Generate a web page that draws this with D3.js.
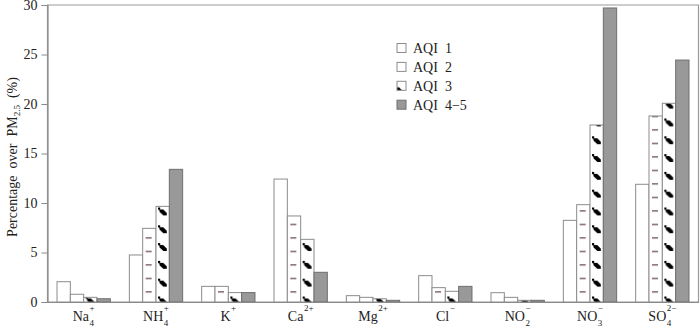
<!DOCTYPE html>
<html><head><meta charset="utf-8">
<script src="https://cdn.jsdelivr.net/npm/d3@7"></script>
<style>
html,body{margin:0;padding:0;background:#fff;}
svg{display:block;}
svg text{font-family:"Liberation Serif","Times New Roman",Times,serif !important;}
</style></head>
<body>
<svg id="chart" width="700" height="327"></svg>
<script>
// ---- data ----
const categories = ["Na4+","NH4+","K+","Ca2+","Mg2+","Cl-","NO2-","NO3-","SO42-"];
const labelBase = ["Na","NH","K","Ca","Mg","Cl","NO","NO","SO"];
const labelSub  = ["4","4","","","","","2","3","4"];
const labelSup  = ["+","+","+","2+","2+","\u2212","\u2212","\u2212","2\u2212"];
const seriesNames = ["AQI  1","AQI  2","AQI  3","AQI  4\u22125"];
const aqi1 = [2.05, 4.75, 1.58, 12.42, 0.64, 2.66, 0.94, 8.25, 11.89];
const aqi2 = [0.78, 7.44, 1.58, 8.69, 0.47, 1.45, 0.47, 9.83, 18.79];
const aqi3 = [0.47, 9.66, 0.95, 6.33, 0.33, 1.08, 0.17, 17.88, 20.07];
const aqi4 = [0.33, 13.40, 0.95, 3.00, 0.17, 1.58, 0.17, 29.70, 24.44];
const yTicks = [0, 5, 10, 15, 20, 25, 30];

const series = [aqi1, aqi2, aqi3, aqi4];
const FONT = "'Liberation Serif','Times New Roman',Times,serif";

// ---- layout ----
const svg = d3.select("#chart");
const L = 47.5, R = 698.5, T = 5, B = 302;
const x = d3.scaleBand().domain(categories).range([L, R]).paddingInner(0.263).paddingOuter(0.1315);
const xs = d3.scaleBand().domain(d3.range(4)).range([0, x.bandwidth()]);
const y = d3.scaleLinear().domain([0, 30]).range([B, T]);
const bw = xs.bandwidth();

const defs = svg.append("defs");

// frame
svg.append("path")
  .attr("d", `M${L},${B}H${R}V${T}H${L}Z`)
  .attr("fill", "none").attr("stroke", "#9a9a9a").attr("stroke-width", 1.2);

function dashPattern(id, x0) {
  const p = defs.append("pattern").attr("id", id).attr("patternUnits", "userSpaceOnUse")
    .attr("x", x0).attr("y", 291.2).attr("width", 200).attr("height", 13.5);
  p.append("rect").attr("width", 200).attr("height", 13.5).attr("fill", "#fff");
  p.append("rect").attr("x", 3).attr("y", 0).attr("width", 6).attr("height", 1.4).attr("fill", "#7a5c5c");
}
function blobPattern(id, x0) {
  const p = defs.append("pattern").attr("id", id).attr("patternUnits", "userSpaceOnUse")
    .attr("x", x0).attr("y", 296.5).attr("width", 200).attr("height", 17.8);
  p.append("rect").attr("width", 200).attr("height", 17.8).attr("fill", "#fff");
  p.append("rect").attr("x", 2).attr("y", 0).attr("width", 2.2).attr("height", 2.2).attr("fill", "#000");
  p.append("path").attr("d", "M3.2,2 L7.2,2 L10.8,5.4 L10.8,7.8 L7.4,7.8 L3.6,4.4 Z").attr("fill", "#000");
}

const gBars = svg.append("g");
categories.forEach((c, ci) => {
  series.forEach((s, si) => {
    const bx = x(c) + xs(si);
    let fill = "#fff", stroke = "#8c8c8c";
    if (si === 1) { const id = `p2_${ci}`; dashPattern(id, bx); fill = `url(#${id})`; }
    if (si === 2) { const id = `p3_${ci}`; blobPattern(id, bx); fill = `url(#${id})`; }
    if (si === 3) { fill = "#999999"; stroke = "#6f6f6f"; }
    gBars.append("rect")
      .attr("x", bx).attr("y", y(s[ci]))
      .attr("width", bw).attr("height", B - y(s[ci]))
      .attr("fill", fill).attr("stroke", stroke).attr("stroke-width", 1);
  });
});

// y axis
const yAxis = d3.axisLeft(y).tickValues(yTicks).tickSize(6).tickPadding(4);
const ya = svg.append("g").attr("transform", `translate(${L},0)`).call(yAxis);
ya.attr("font-family", FONT);
ya.select(".domain").attr("stroke", "#8a8a8a").attr("stroke-width", 1.2);
ya.selectAll(".tick line").attr("stroke", "#8a8a8a");
ya.selectAll(".tick text").attr("font-family", FONT).attr("font-size", 14).attr("fill", "#222");

// x axis baseline
const xAxis = d3.axisBottom(x).tickSize(0).tickFormat("");
const xa = svg.append("g").attr("transform", `translate(0,${B})`).call(xAxis);
xa.select(".domain").attr("stroke", "#8a8a8a").attr("stroke-width", 1.2);

// x labels with sub/superscripts
categories.forEach((c, i) => {
  const g = svg.append("g").attr("font-family", FONT);
  const t = g.append("text").attr("font-size", 14).attr("fill", "#222").attr("y", 321).attr("x", 0).text(labelBase[i]);
  const w = t.node().getComputedTextLength();
  let extra = 0;
  if (labelSub[i]) {
    const st = g.append("text").attr("font-size", 9).attr("fill", "#222").attr("x", w + 0.5).attr("y", 325.5).text(labelSub[i]);
    extra = Math.max(extra, st.node().getComputedTextLength());
  }
  const sp = g.append("text").attr("font-size", 9).attr("fill", "#222").attr("x", w + 0.5).attr("y", 311).text(labelSup[i]);
  extra = Math.max(extra, sp.node().getComputedTextLength());
  const total = w + 0.5 + extra;
  g.attr("transform", `translate(${x(c) + x.bandwidth() / 2 - total / 2},0)`);
});

// y title
const yt = svg.append("text").attr("transform", "translate(17,157) rotate(-90)")
  .attr("text-anchor", "middle").attr("font-size", 14).attr("fill", "#222")
  .attr("font-family", FONT).style("white-space", "pre");
yt.append("tspan").text("Percentage  over  PM");
yt.append("tspan").attr("font-size", 9).attr("dy", 3).text("2.5");
yt.append("tspan").attr("dy", -3).text("  (%)");

// legend
const leg = svg.append("g").attr("transform", "translate(397,43.5)").attr("font-family", FONT);
seriesNames.forEach((n, i) => {
  const gy = i * 18.9;
  let fill = "#fff", stroke = "#8c8c8c";
  const bx = 397, by = 43.5 + gy;
  if (i === 1) {
    const p = defs.append("pattern").attr("id", "lg2").attr("patternUnits", "userSpaceOnUse")
      .attr("x", bx).attr("y", by).attr("width", 20).attr("height", 20);
    p.append("rect").attr("width", 20).attr("height", 20).attr("fill", "#fff");
    p.append("rect").attr("x", 6).attr("y", 6.5).attr("width", 2.5).attr("height", 1.4).attr("fill", "#7a5c5c");
    fill = "url(#lg2)";
  }
  if (i === 2) {
    const p = defs.append("pattern").attr("id", "lg3").attr("patternUnits", "userSpaceOnUse")
      .attr("x", bx).attr("y", by).attr("width", 20).attr("height", 20);
    p.append("rect").attr("width", 20).attr("height", 20).attr("fill", "#fff");
    p.append("rect").attr("x", 1).attr("y", 1).attr("width", 2).attr("height", 2).attr("fill", "#000");
    p.append("path").attr("d", "M2,2.6 L5,2.6 L8.8,6.2 L8.8,8.8 L6,8.8 L2,4.8 Z").attr("fill", "#000");
    fill = "url(#lg3)";
  }
  if (i === 3) { fill = "#999999"; stroke = "#6f6f6f"; }
  leg.append("rect").attr("x", 0).attr("y", gy).attr("width", 9).attr("height", 9)
    .attr("fill", fill).attr("stroke", stroke).attr("stroke-width", 1);
  leg.append("text").attr("x", 16).attr("y", gy + 9.5).attr("font-size", 14).attr("fill", "#222")
    .style("white-space", "pre").text(n);
});
</script>
</body></html>
